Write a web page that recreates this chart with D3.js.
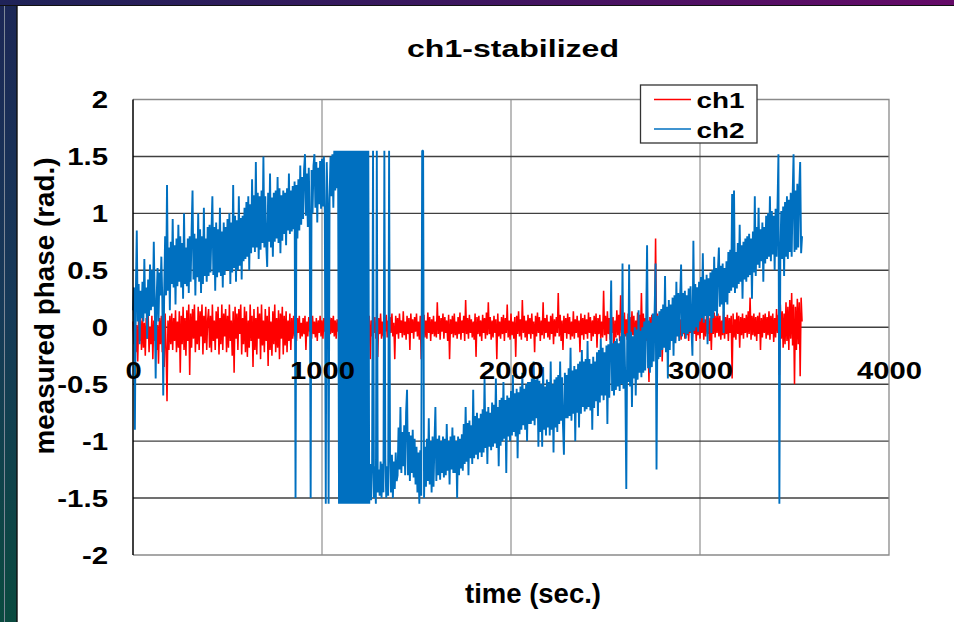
<!DOCTYPE html>
<html><head><meta charset="utf-8">
<script src="https://cdn.jsdelivr.net/npm/d3@7"></script>
<style>
body{margin:0;background:#fff;}
svg{display:block;}
text{font-family:"Liberation Sans",Arial,sans-serif;font-weight:bold;fill:#000;}
</style>
</head><body>
<svg id="chart" width="954" height="622"></svg>
<script>
const chartTitle = "ch1-stabilized";
const xAxisTitle = "time (sec.)";
const yAxisTitle = "measured phase (rad.)";
const seriesNames = ["ch1", "ch2"];
const xTicks = [0, 1000, 2000, 3000, 4000];
const xTickLabels = ["0", "1000", "2000", "3000", "4000"];
const yTicks = [-2, -1.5, -1, -0.5, 0, 0.5, 1, 1.5, 2];
const yTickLabels = ["-2", "-1.5", "-1", "-0.5", "0", "0.5", "1", "1.5", "2"];
const sampleStart = 0;   // sec
const sampleStep = 5;    // sec between samples (both channels)

// ch1: one value every 5 s, t = 0 ... 3540
const ch1 = [
 0.05,-0.15,0.10,-0.22,0.02,-0.30,0.08,-0.12,0.06,-0.20,
 0.10,-0.18,0.04,-0.25,0.08,-0.10,0.12,-0.22,0.00,-0.15,
 0.10,-0.28,0.06,-0.12,0.12,-0.20,0.02,-0.32,0.08,-0.15,
 0.10,-0.22,0.05,-0.35,0.12,-0.18,-0.65,0.06,-0.20,0.10,
 -0.15,0.12,-0.20,0.08,-0.12,0.15,-0.22,0.05,-0.18,0.14,
 -0.40,0.10,-0.15,0.18,-0.20,0.08,-0.25,0.15,-0.12,0.20,
 -0.42,0.12,-0.18,0.16,-0.10,0.20,-0.22,0.06,-0.15,0.18,
 -0.20,0.14,-0.08,0.20,-0.24,0.10,-0.14,0.18,-0.20,0.06,
 0.16,-0.18,0.10,-0.22,0.20,-0.12,0.06,-0.20,0.14,-0.10,
 0.18,-0.24,0.08,-0.15,0.20,-0.20,0.12,-0.08,0.16,-0.22,
 0.10,-0.18,0.20,-0.12,0.06,-0.25,0.14,-0.40,0.18,-0.10,
 0.12,-0.20,0.16,-0.06,0.20,-0.24,0.08,-0.15,0.18,-0.22,
 0.14,-0.26,0.06,-0.18,0.20,-0.12,0.10,-0.35,0.16,-0.20,
 0.08,-0.24,0.18,-0.10,0.12,-0.28,0.20,-0.16,0.06,-0.22,
 0.16,-0.12,0.10,-0.34,0.18,-0.20,0.05,-0.25,0.14,-0.15,
 0.20,-0.22,0.08,-0.18,0.15,-0.28,0.12,-0.10,0.18,-0.24,
 0.10,-0.16,0.14,-0.22,0.06,-0.12,0.12,-0.20,0.08,-0.10,
 0.10,-0.08,0.06,-0.12,0.08,-0.05,0.10,-0.10,0.04,-0.08,
 0.08,-0.06,0.10,-0.20,0.05,-0.08,0.09,-0.04,0.07,-0.10,
 0.10,-0.06,0.05,-0.09,0.08,-0.12,0.06,-0.05,0.10,-0.08,
 0.06,-0.10,0.08,-0.04,0.10,-0.07,0.05,-0.18,0.09,-0.06,
 0.08,-0.05,0.10,-0.08,0.06,-0.10,0.07,-0.04,0.09,-0.06,
 0.05,-0.08,0.09,-0.05,0.07,-0.10,0.06,-0.04,0.08,-0.07,
 0.06,-0.09,0.08,-0.05,0.10,-0.06,0.05,-0.08,0.07,-0.04,
 0.09,-0.07,0.06,-0.10,0.08,-0.05,0.07,-0.08,0.10,-0.06,
 0.10,-0.28,0.06,-0.08,0.12,-0.05,0.09,-0.10,0.05,-0.26,
 0.08,-0.06,0.12,-0.10,0.05,-0.08,0.10,-0.04,0.11,-0.09,
 0.06,-0.12,0.09,-0.05,0.12,-0.08,0.04,-0.28,0.10,-0.06,
 0.08,-0.10,0.12,-0.05,0.06,-0.09,0.14,-0.07,0.05,-0.11,
 0.10,-0.06,0.08,-0.20,0.12,-0.05,0.07,-0.10,0.09,-0.04,
 0.12,-0.08,0.05,-0.11,0.10,-0.28,0.08,-0.06,0.11,-0.09,
 0.06,-0.10,0.13,-0.05,0.09,-0.12,0.07,-0.06,0.10,-0.08,
 0.05,-0.09,0.22,-0.06,0.10,-0.11,0.08,-0.04,0.12,-0.10,
 0.09,-0.05,0.06,-0.12,0.11,-0.28,0.07,-0.06,0.10,-0.09,
 0.12,-0.07,0.05,-0.10,0.09,-0.06,0.13,-0.11,0.06,-0.05,
 0.10,-0.12,0.24,-0.06,0.08,-0.10,0.11,-0.05,0.07,-0.09,
 0.05,-0.11,0.12,-0.26,0.09,-0.06,0.10,-0.08,0.06,-0.12,
 0.11,-0.05,0.08,-0.10,0.13,-0.07,0.22,-0.06,0.09,-0.11,
 0.06,-0.09,0.10,-0.05,0.07,-0.28,0.12,-0.08,0.05,-0.10,
 0.09,-0.06,0.11,-0.12,0.08,-0.05,0.20,-0.09,0.06,-0.11,
 0.12,-0.07,0.05,-0.10,0.09,-0.26,0.10,-0.06,0.14,-0.08,
 0.07,-0.11,0.24,-0.05,0.10,-0.09,0.06,-0.12,0.11,-0.06,
 0.08,-0.10,0.12,-0.06,0.05,-0.22,0.10,-0.08,0.13,-0.05,
 0.09,-0.12,0.06,-0.07,0.22,-0.10,0.08,-0.05,0.11,-0.09,
 0.05,-0.11,0.10,-0.06,0.12,-0.15,0.07,-0.08,0.09,-0.05,
 0.30,-0.08,0.11,-0.12,0.06,-0.20,0.10,-0.05,0.08,-0.10,
 0.12,-0.06,0.09,-0.11,0.05,-0.08,0.14,-0.10,0.07,-0.05,
 0.10,-0.09,0.06,-0.22,0.12,-0.07,0.08,-0.11,0.11,-0.06,
 0.07,-0.10,0.13,-0.05,0.09,-0.12,0.06,-0.08,0.10,-0.06,
 0.12,-0.18,0.08,-0.06,0.11,-0.10,0.05,-0.09,0.32,-0.07,
 0.10,-0.12,0.14,-0.06,0.08,-0.11,0.12,-0.05,0.09,-0.20,
 0.06,-0.09,0.15,-0.07,0.11,-0.12,0.28,-0.05,0.10,-0.10,
 0.13,-0.08,0.07,-0.11,0.12,-0.06,0.09,-0.13,0.14,-0.07,
 0.10,-0.15,0.06,-0.09,0.13,-0.05,0.11,-0.10,0.30,-0.08,
 0.12,-0.06,0.08,-0.12,0.10,-0.09,-0.48,0.09,-0.07,0.11,
 -0.08,0.10,-0.05,0.78,-0.10,0.12,-0.06,0.09,-0.11,0.13,
 -0.30,0.08,-0.07,0.12,-0.10,0.06,-0.13,0.10,-0.05,0.14,
 -0.09,0.11,-0.06,0.08,-0.12,0.10,-0.05,0.13,-0.08,0.07,
 -0.11,0.12,-0.06,0.09,-0.10,0.14,-0.07,0.08,-0.12,0.10,
 -0.05,0.11,-0.09,0.13,-0.06,0.10,-0.12,0.08,-0.07,0.12,
 -0.10,0.09,-0.05,0.14,-0.11,0.07,-0.08,0.12,-0.06,0.10,
 -0.12,0.08,-0.20,0.11,-0.06,0.13,-0.09,0.10,-0.05,0.12,
 -0.08,0.10,-0.11,0.06,-0.07,0.14,-0.10,0.09,-0.06,0.11,
 -0.12,0.08,-0.05,0.10,-0.45,0.12,-0.09,0.07,-0.11,0.13,
 -0.06,0.10,-0.18,0.09,-0.07,0.12,-0.10,0.08,-0.05,0.11,
 -0.09,0.14,-0.06,0.26,-0.11,0.10,-0.07,0.12,-0.08,0.09,
 -0.12,0.10,-0.06,0.13,-0.20,0.08,-0.09,0.11,-0.05,0.12,
 -0.10,0.09,-0.07,0.14,-0.11,0.10,-0.06,0.12,-0.13,0.08,
 -0.09,0.16,-0.05,0.11,-0.42,0.20,-0.10,0.14,-0.18,0.12,
 -0.15,0.22,-0.12,0.18,-0.20,0.24,-0.10,0.30,-0.16,0.20,
 -0.50,0.18,-0.20,0.25,-0.15,0.22,-0.43,0.26,0.05
];

// ch2: one value every 5 s, t = 0 ... 3540
const ch2 = [
 0.15,0.35,-0.90,0.30,0.85,0.05,0.38,-0.15,0.32,0.08,
 0.40,0.05,0.60,0.12,0.35,-0.10,0.42,0.10,0.55,0.15,
 0.50,0.18,0.75,0.22,-0.45,0.25,0.52,0.05,0.48,0.28,
 0.62,0.25,-0.60,0.30,0.80,0.28,1.25,0.32,0.70,0.15,
 0.75,0.38,0.95,0.35,0.72,0.20,0.78,0.36,0.90,0.40,
 0.80,0.35,0.74,0.25,1.00,0.38,0.70,0.36,0.78,0.30,
 0.80,0.40,0.85,1.20,0.42,0.82,0.28,0.78,0.44,1.00,
 0.40,0.86,0.30,0.80,0.38,1.05,0.45,0.78,0.40,0.88,
 0.45,0.90,0.48,0.84,1.15,0.46,0.88,0.32,0.92,0.44,
 0.86,0.48,1.05,0.45,0.84,0.35,0.92,0.46,0.88,0.50,
 0.95,0.50,1.00,0.38,0.92,0.48,1.25,0.52,0.98,0.40,
 0.94,0.50,1.15,0.54,0.96,0.42,0.98,0.58,1.05,0.60,
 1.10,0.62,1.15,0.50,1.08,0.65,1.30,0.70,1.16,0.66,
 1.45,0.70,1.18,0.60,1.15,0.68,1.20,0.74,1.50,0.70,
 1.15,0.72,0.53,1.18,0.75,1.35,0.70,1.14,0.62,1.18,
 0.75,1.20,0.78,1.32,0.74,1.22,0.65,1.16,0.76,1.20,
 0.82,1.18,0.72,1.22,0.85,1.35,0.82,1.20,0.84,1.24,
 0.86,1.28,-1.50,1.25,0.78,1.30,0.85,1.42,0.90,1.32,
 0.95,1.38,1.52,0.98,1.35,0.88,1.40,0.96,-1.50,1.38,
 1.00,1.42,1.52,1.05,1.45,0.92,1.40,1.08,1.46,1.04,
 1.48,1.06,1.50,0.98,-1.55,1.45,1.08,-1.55,1.12,1.50,
 1.15,1.52,1.05,1.55,1.20,1.55,1.22,1.55,
 -1.55,1.55,-1.55,1.55,-1.55,1.55,-1.55,1.55,-1.55,1.55,-1.55,
 1.55,-1.55,1.55,-1.55,1.55,-1.55,1.55,-1.55,1.55,-1.55,1.55,
 -1.55,1.55,-1.55,1.55,-1.55,1.55,-1.55,1.55,-1.55,1.55,-1.55,
 -1.20,-1.52,-1.25,1.55,-1.50,-1.22,-1.55,1.55,-1.45,
 -1.25,-1.48,-1.18,-1.50,-1.20,-1.45,1.55,-1.15,-1.50,-1.22,
 -1.48,1.55,-1.15,-1.45,-1.12,-1.50,-1.18,-1.42,-1.10,-1.35,
 -1.30,-0.88,-1.25,-0.70,-1.28,-0.92,-1.22,-0.86,-1.30,-0.75,
 -0.55,-1.30,-0.92,-1.35,-0.95,-1.28,-0.90,-1.32,-0.98,-1.38,
 -1.05,-1.45,-1.10,-1.55,-1.08,-1.48,1.55,1.55,-1.50,-1.05,
 -1.40,-0.98,-1.35,-0.80,-1.38,-1.00,-1.45,-0.96,-1.40,-1.02,
 -0.70,-1.35,-0.98,-1.30,-0.95,-1.34,-1.00,-1.28,-0.96,-1.32,
 -0.98,-1.30,-0.85,-1.26,-1.00,-1.38,-0.96,-1.25,-0.88,-1.28,
 -0.95,-1.28,-1.00,-1.50,-0.96,-1.30,-0.98,-1.24,-0.94,-1.26,
 -0.85,-1.20,-0.70,-1.18,-0.84,-1.30,-0.82,-1.15,-0.86,-1.20,
 -0.55,-1.15,-0.78,-1.12,-0.75,-1.16,-0.80,-1.10,-0.76,-1.14,
 -0.72,-1.10,-0.45,-1.06,-0.74,-1.20,-0.70,-1.05,-0.75,-1.08,
 -0.66,-1.05,-0.68,-1.02,-0.45,-1.06,-0.70,-1.22,-0.64,-1.04,
 -0.62,-1.00,-0.48,-0.98,-0.64,-1.28,-0.60,-0.96,-0.62,-1.00,
 -0.56,-0.95,-0.42,-0.92,-0.58,-0.96,-0.54,-1.15,-0.57,-0.94,
 -0.52,-0.90,-0.40,-0.86,-0.54,-0.90,-0.50,-1.00,-0.48,-0.85,
 -0.48,-0.85,-0.45,-0.82,-0.30,-0.86,-0.46,-0.80,-0.44,-1.05,
 -0.47,-0.92,-0.50,-1.05,-0.35,-0.90,-0.52,-0.95,-0.46,-0.88,
 -0.48,-0.95,-0.30,-0.90,-0.50,-1.10,-0.46,-0.88,-0.44,-0.92,
 -0.42,-0.85,-0.30,-0.82,-0.44,-0.86,-1.12,-0.40,-0.80,-0.42,
 -0.80,-0.36,-0.78,-0.18,-0.82,-0.38,-0.76,-0.34,-1.00,-0.37,
 -0.75,-0.32,-0.88,-0.30,-0.76,-0.20,-0.70,-0.30,-0.74,-0.28,
 -0.72,-0.12,-0.70,-0.28,-0.73,-0.32,-0.90,-0.26,-0.71,-0.30,
 -0.65,-0.22,-0.78,-0.20,-0.66,-0.10,-0.60,-0.18,-0.64,-0.22,
 -0.60,-0.16,-0.85,-0.15,-0.62,-0.18,0.41,-0.56,-0.14,-0.60,
 -0.12,-0.55,-0.10,-0.52,-0.14,-0.56,-0.08,-0.50,0.56,-0.54,
 -0.06,-0.50,-1.42,-0.05,-0.48,0.55,-0.52,-0.04,-0.70,-0.08,
 -0.45,0.00,-0.60,-0.02,-0.46,0.15,-0.40,-0.03,-0.44,0.00,
 -0.40,0.05,-0.38,0.02,0.72,-0.36,0.06,-0.40,0.04,-0.35,
 0.12,-0.30,0.15,0.56,-1.25,0.10,-0.28,0.14,-0.26,0.16,
 -0.20,0.20,-0.18,0.45,-0.22,0.18,-0.45,0.24,-0.20,0.20,
 -0.12,0.26,-0.25,0.28,-0.14,0.40,-0.08,0.30,-0.12,0.26,
 0.55,-0.08,0.30,-0.05,0.32,-0.10,0.28,-0.06,0.34,-0.04,
 0.36,-0.02,-0.25,0.76,-0.03,0.38,0.00,0.35,-0.04,0.40,
 0.05,0.44,0.08,0.65,0.04,0.42,0.10,0.46,-0.15,0.43,
 0.10,0.48,-0.05,0.50,0.08,0.62,0.14,0.52,0.10,0.50,
 0.70,0.18,0.54,0.20,0.56,-0.05,0.52,0.22,0.58,0.20,
 0.66,0.30,0.68,0.32,1.17,0.35,1.20,0.30,0.66,0.34,
 0.74,0.38,0.90,0.40,0.72,0.25,0.75,0.42,0.78,0.40,
 0.80,0.44,0.82,0.46,0.78,0.25,0.84,0.48,1.15,0.45,
 0.88,0.55,1.05,0.52,0.86,0.58,0.92,0.40,0.88,0.56,
 0.98,0.60,1.00,0.62,1.15,0.58,1.02,0.64,0.98,0.50,
 1.04,0.62,1.05,1.52,-1.55,0.64,1.02,0.60,1.06,0.45,
 1.10,0.62,1.15,0.60,1.12,0.66,1.18,0.62,1.14,1.52,
 0.66,1.20,0.68,1.26,0.70,1.22,1.45,0.65,0.80
];

const seriesData = [ch1, ch2];
const seriesColors = ["#ff0000", "#0070c0"];
const seriesWidths = [1.55, 1.9];

const svg = d3.select("#chart");
const W = 954, H = 622;
const plot = {left: 133, right: 889, top: 99.5, bottom: 555};

const x = d3.scaleLinear().domain([0, 4000]).range([plot.left, plot.right]);
const y = d3.scaleLinear().domain([-2, 2]).range([plot.bottom, plot.top]);

// ---- slide frame ----
const defs = svg.append("defs");
const gTop = defs.append("linearGradient").attr("id", "gTop").attr("x1", 0).attr("x2", 1).attr("y1", 0).attr("y2", 0);
gTop.append("stop").attr("offset", "0%").attr("stop-color", "#1f2358");
gTop.append("stop").attr("offset", "50%").attr("stop-color", "#3e1660");
gTop.append("stop").attr("offset", "100%").attr("stop-color", "#650a68");
const gLeft = defs.append("linearGradient").attr("id", "gLeft").attr("x1", 0).attr("x2", 0).attr("y1", 0).attr("y2", 1);
gLeft.append("stop").attr("offset", "0%").attr("stop-color", "#1c2756");
gLeft.append("stop").attr("offset", "50%").attr("stop-color", "#163a58");
gLeft.append("stop").attr("offset", "100%").attr("stop-color", "#0a4a3f");

svg.append("rect").attr("x", 0).attr("y", 0).attr("width", W).attr("height", H).attr("fill", "#fff");
svg.append("rect").attr("x", 0).attr("y", 0).attr("width", 17).attr("height", H).attr("fill", "url(#gLeft)");
svg.append("line").attr("x1", 4.5).attr("x2", 4.5).attr("y1", 6).attr("y2", H).attr("stroke", "#7d8796").attr("stroke-width", 1);
svg.append("rect").attr("x", 0).attr("y", 0).attr("width", W).attr("height", 5).attr("fill", "url(#gTop)");
svg.append("line").attr("x1", 0).attr("x2", W).attr("y1", 5.5).attr("y2", 5.5).attr("stroke", "#111").attr("stroke-width", 1.2);
svg.append("line").attr("x1", 17).attr("x2", 17).attr("y1", 5).attr("y2", H).attr("stroke", "#111").attr("stroke-width", 1.4);

// ---- gridlines ----
const grid = svg.append("g");
grid.selectAll(".vg").data(xTicks.filter(d => d > 0 && d < 4000)).join("line")
  .attr("x1", d => x(d)).attr("x2", d => x(d)).attr("y1", plot.top).attr("y2", plot.bottom)
  .attr("stroke", "#a6a6a6").attr("stroke-width", 1.5);
grid.selectAll(".hg").data(yTicks.filter(d => d > -2 && d < 2)).join("line")
  .attr("x1", plot.left).attr("x2", plot.right).attr("y1", d => y(d)).attr("y2", d => y(d))
  .attr("stroke", "#404040").attr("stroke-width", 1.4);
grid.append("path")
  .attr("d", `M${plot.left},${y(2)}H${x(4000)}V${y(-2)}H${plot.left}`)
  .attr("fill", "none").attr("stroke", "#8a8a8a").attr("stroke-width", 1.3);

// ---- data ----
const line = d3.line()
  .x((d, i) => x(sampleStart + i * sampleStep))
  .y(d => y(d));
seriesData.forEach((arr, k) => {
  svg.append("path").datum(arr).attr("d", line)
    .attr("fill", "none").attr("stroke", seriesColors[k]).attr("stroke-width", seriesWidths[k])
    .attr("stroke-linejoin", "bevel");
});

// ---- axes ----
const yAxis = svg.append("g").attr("transform", `translate(${plot.left},0)`)
  .call(d3.axisLeft(y).tickValues(yTicks).tickSize(0).tickFormat((d, i) => yTickLabels[i]));
yAxis.select(".domain").remove();
yAxis.selectAll("text").attr("x", -19.5).attr("dy", "0.36em")
  .attr("transform", "scale(1.28,1)")
  .style("font-size", "23px").style("font-family", "'Liberation Sans',Arial,sans-serif").style("font-weight", "bold").attr("fill", "#000");
svg.append("line").attr("x1", plot.left).attr("x2", plot.left).attr("y1", plot.top).attr("y2", plot.bottom)
  .attr("stroke", "#000").attr("stroke-width", 1.5);

const xAxis = svg.append("g").attr("transform", `translate(0,${y(0)})`)
  .call(d3.axisBottom(x).tickValues(xTicks).tickSize(0).tickFormat((d, i) => xTickLabels[i]));
xAxis.select(".domain").remove();
xAxis.selectAll("text").attr("y", 43).attr("dy", "0.36em")
  .attr("transform", "scale(1.27,1)")
  .style("font-size", "23px").style("font-family", "'Liberation Sans',Arial,sans-serif").style("font-weight", "bold").attr("fill", "#000");

// ---- titles ----
svg.append("text").attr("x", 513).attr("y", 56.5).attr("text-anchor", "middle")
  .attr("textLength", 212).attr("lengthAdjust", "spacingAndGlyphs")
  .style("font-size", "23px").text(chartTitle);
svg.append("text").attr("x", 533).attr("y", 602.5).attr("text-anchor", "middle")
  .attr("textLength", 136).attr("lengthAdjust", "spacingAndGlyphs")
  .style("font-size", "27px").text(xAxisTitle);
svg.append("text").attr("transform", "translate(53.5,306) rotate(-90)").attr("text-anchor", "middle")
  .attr("textLength", 297).attr("lengthAdjust", "spacingAndGlyphs")
  .style("font-size", "27px").text(yAxisTitle);

// ---- legend ----
const lg = svg.append("g");
lg.append("rect").attr("x", 640.5).attr("y", 85).attr("width", 116.5).attr("height", 58)
  .attr("fill", "#fff").attr("stroke", "#333").attr("stroke-width", 1.3);
seriesNames.forEach((name, i) => {
  const cy = 99.5 + i * 29.5;
  lg.append("line").attr("x1", 654).attr("x2", 691).attr("y1", cy).attr("y2", cy)
    .attr("stroke", seriesColors[i]).attr("stroke-width", 1.3);
  lg.append("text").attr("x", 696.5).attr("y", cy + 8.5)
    .attr("textLength", 48).attr("lengthAdjust", "spacingAndGlyphs")
    .style("font-size", "22px").text(name);
});
</script>
</body></html>
